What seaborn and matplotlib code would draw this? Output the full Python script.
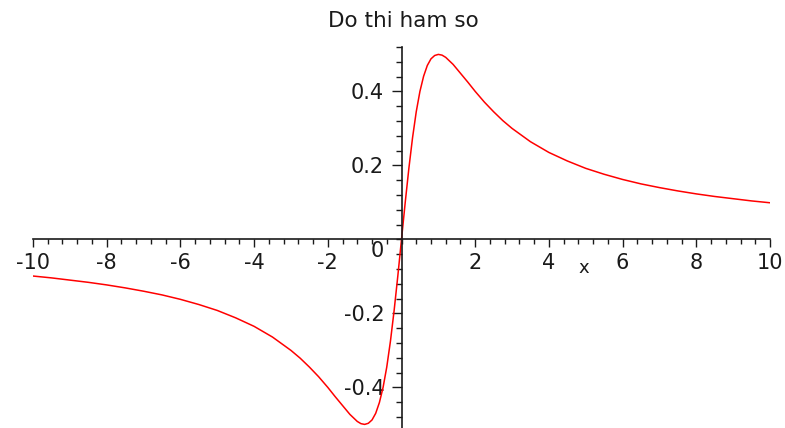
import matplotlib
matplotlib.use("Agg")
import matplotlib.pyplot as plt
from matplotlib.ticker import MultipleLocator, FixedLocator
import seaborn as sns
import pandas as pd

# Sampled points of the curve y = f(x)
x_vals = [-10, -9.5, -9, -8.5, -8, -7.5, -7, -6.5, -6, -5.5, -5, -4.5, -4, -3.5,
          -3, -2.75, -2.5, -2.25, -2, -1.8, -1.6, -1.4, -1.2, -1.1, -1.0, -0.9,
          -0.8, -0.7, -0.6, -0.5, -0.4, -0.3, -0.2, -0.1, 0,
          0.1, 0.2, 0.3, 0.4, 0.5, 0.6, 0.7, 0.8, 0.9, 1.0, 1.1, 1.2, 1.4, 1.6,
          1.8, 2, 2.25, 2.5, 2.75, 3, 3.5, 4, 4.5, 5, 5.5, 6, 6.5, 7, 7.5, 8,
          8.5, 9, 9.5, 10]
y_vals = [-0.099, -0.104, -0.110, -0.116, -0.123, -0.131, -0.140, -0.150, -0.162,
          -0.176, -0.192, -0.212, -0.235, -0.264, -0.300, -0.321, -0.345, -0.371,
          -0.400, -0.425, -0.449, -0.473, -0.492, -0.498, -0.500, -0.497, -0.488,
          -0.470, -0.441, -0.400, -0.345, -0.275, -0.192, -0.099, 0.000,
          0.099, 0.192, 0.275, 0.345, 0.400, 0.441, 0.470, 0.488, 0.497, 0.500,
          0.498, 0.492, 0.473, 0.449, 0.425, 0.400, 0.371, 0.345, 0.321, 0.300,
          0.264, 0.235, 0.212, 0.192, 0.176, 0.162, 0.150, 0.140, 0.131, 0.123,
          0.116, 0.110, 0.104, 0.099]

x_ticks = [-10, -8, -6, -4, -2, 2, 4, 6, 8, 10]
y_ticks = [-0.4, -0.2, 0.2, 0.4]

title_text = "Do thi ham so"

sns.set_style("white")
plt.rcParams["font.family"] = ["DejaVu Sans"]
plt.rcParams["axes.unicode_minus"] = False

df = pd.DataFrame({"x": x_vals, "y": y_vals})

fig = plt.figure(figsize=(7.85, 4.28), dpi=100)
ax = fig.add_axes([33 / 785, 1 - 431.8 / 428, 737 / 785, 384.8 / 428])

sns.lineplot(data=df, x="x", y="y", ax=ax, color="#ff0000", linewidth=1.1,
             sort=False, estimator=None)

ax.set_xlim(-10, 10)
ax.set_ylim(-0.52, 0.52)

# Axes crossing at the origin
for side in ("top", "right"):
    ax.spines[side].set_visible(False)
ax.spines["left"].set_position(("data", 0))
ax.spines["bottom"].set_position(("data", 0))
for side in ("left", "bottom"):
    ax.spines[side].set_color("#1a1a1a")
    ax.spines[side].set_linewidth(1.2)

ax.xaxis.set_major_locator(FixedLocator(x_ticks))
ax.xaxis.set_minor_locator(MultipleLocator(0.4))
ax.yaxis.set_major_locator(FixedLocator(y_ticks))
ax.yaxis.set_minor_locator(MultipleLocator(0.04))
ax.set_xticklabels([str(v) for v in x_ticks])
ax.set_yticklabels([f"{v:.1f}" for v in y_ticks])

ax.tick_params(axis="both", which="both", direction="out", color="#1a1a1a",
               width=1.0, labelsize=15, labelcolor="#1a1a1a")
ax.tick_params(axis="x", which="major", length=6, pad=4, bottom=True)
ax.tick_params(axis="x", which="minor", length=3.5, bottom=True)
ax.tick_params(axis="y", which="major", length=7.5, pad=5, left=True)
ax.tick_params(axis="y", which="minor", length=4.5, left=True)

# Origin label and axis name
ax.text(-0.65, -0.003, "0", ha="center", va="top", fontsize=15, color="#1a1a1a")
ax.set_xlabel("x", fontsize=13, color="#1a1a1a")
ax.xaxis.label.set_va("center")
ax.xaxis.set_label_coords((584 - 33) / 737, (431.8 - 268) / 384.8)
ax.set_ylabel("")

fig.text(403 / 785, 1 - 21 / 428, title_text, ha="center", va="center",
         fontsize=15.5, color="#1a1a1a")

fig.savefig("out.png", dpi=100, facecolor="white")
